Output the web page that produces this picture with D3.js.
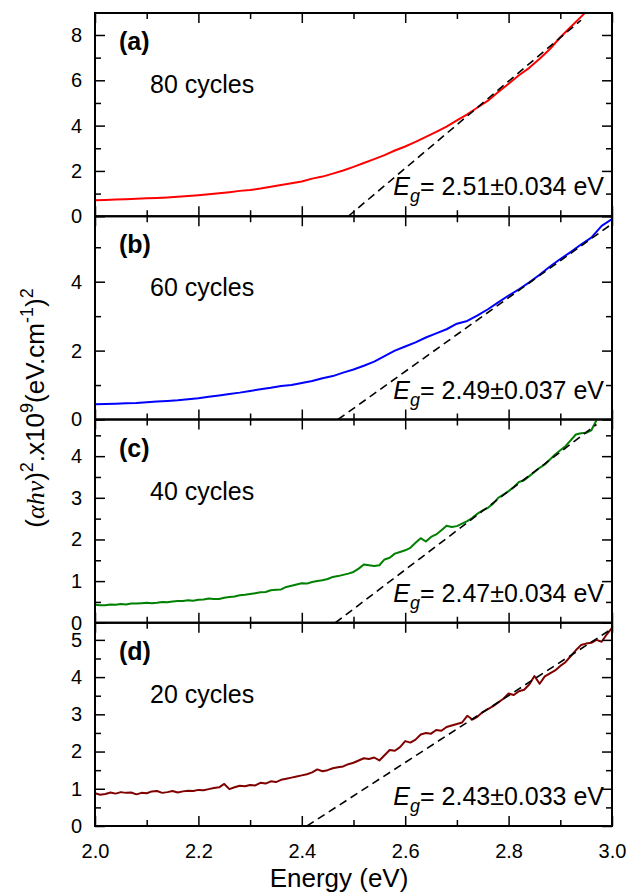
<!DOCTYPE html>
<html>
<head>
<meta charset="utf-8">
<script src="https://cdn.jsdelivr.net/npm/d3@7"></script>
<style>
  body { margin: 0; background: #fff; }
  text { font-family: Arial, "Liberation Sans", sans-serif; fill: #000; }
</style>
</head>
<body>
<svg id="svg" width="629" height="896"></svg>
<script>
// photon energy (eV): coarse grid for the smooth spectra (a, b)
var energy = [2.00, 2.02, 2.04, 2.06, 2.08, 2.10, 2.12, 2.14, 2.16, 2.18,
    2.20, 2.22, 2.24, 2.26, 2.28, 2.30, 2.32, 2.34, 2.36, 2.38,
    2.40, 2.42, 2.44, 2.46, 2.48, 2.50, 2.52, 2.54, 2.56, 2.58,
    2.60, 2.62, 2.64, 2.66, 2.68, 2.70, 2.72, 2.74, 2.76, 2.78,
    2.80, 2.82, 2.84, 2.86, 2.88, 2.90, 2.92, 2.94, 2.96, 2.98, 3.00]

// finer grid for the noisier spectra (c, d)
var energyFine = [2.00, 2.01, 2.02, 2.03, 2.04, 2.05, 2.06, 2.07, 2.08, 2.09,
    2.10, 2.11, 2.12, 2.13, 2.14, 2.15, 2.16, 2.17, 2.18, 2.19,
    2.20, 2.21, 2.22, 2.23, 2.24, 2.25, 2.26, 2.27, 2.28, 2.29,
    2.30, 2.31, 2.32, 2.33, 2.34, 2.35, 2.36, 2.37, 2.38, 2.39,
    2.40, 2.41, 2.42, 2.43, 2.44, 2.45, 2.46, 2.47, 2.48, 2.49,
    2.50, 2.51, 2.52, 2.53, 2.54, 2.55, 2.56, 2.57, 2.58, 2.59,
    2.60, 2.61, 2.62, 2.63, 2.64, 2.65, 2.66, 2.67, 2.68, 2.69,
    2.70, 2.71, 2.72, 2.73, 2.74, 2.75, 2.76, 2.77, 2.78, 2.79,
    2.80, 2.81, 2.82, 2.83, 2.84, 2.85, 2.86, 2.87, 2.88, 2.89,
    2.90, 2.91, 2.92, 2.93, 2.94, 2.95, 2.96, 2.97, 2.98, 2.99, 3.00]

// (alpha h nu)^2 x 1e9
var cycles80 = [0.71, 0.72, 0.74, 0.75, 0.77, 0.79, 0.81, 0.83, 0.86, 0.89,
    0.93, 0.97, 1.01, 1.06, 1.12, 1.16, 1.22, 1.30, 1.38, 1.46,
    1.53, 1.66, 1.75, 1.88, 2.02, 2.18, 2.35, 2.52, 2.70, 2.90,
    3.08, 3.28, 3.50, 3.72, 3.96, 4.23, 4.50, 4.80, 5.10, 5.48,
    5.85, 6.22, 6.55, 6.95, 7.38, 7.90, 8.35, 8.80, 9.25, 9.70, 10.1]
var cycles60 = [0.44, 0.45, 0.46, 0.47, 0.48, 0.50, 0.52, 0.54, 0.56, 0.59,
    0.62, 0.66, 0.70, 0.74, 0.78, 0.83, 0.88, 0.92, 0.97, 1.00,
    1.06, 1.12, 1.20, 1.26, 1.36, 1.45, 1.56, 1.68, 1.84, 2.00,
    2.12, 2.24, 2.38, 2.50, 2.62, 2.78, 2.86, 3.02, 3.20, 3.40,
    3.60, 3.78, 3.98, 4.20, 4.44, 4.66, 4.86, 5.08, 5.28, 5.62, 5.82]
var cycles40 = [0.43, 0.42, 0.42, 0.44, 0.43, 0.45, 0.44, 0.46, 0.46, 0.47,
    0.48, 0.47, 0.48, 0.50, 0.49, 0.51, 0.52, 0.52, 0.54, 0.53,
    0.55, 0.56, 0.58, 0.57, 0.57, 0.60, 0.62, 0.63, 0.66, 0.67,
    0.69, 0.71, 0.73, 0.74, 0.78, 0.79, 0.80, 0.86, 0.89, 0.92,
    0.95, 0.94, 0.98, 1.00, 1.02, 1.05, 1.10, 1.12, 1.15, 1.18,
    1.22, 1.30, 1.40, 1.38, 1.36, 1.38, 1.52, 1.56, 1.66, 1.70,
    1.74, 1.80, 1.92, 2.03, 1.95, 2.06, 2.12, 2.22, 2.33, 2.30,
    2.32, 2.38, 2.44, 2.52, 2.62, 2.70, 2.76, 2.86, 3.00, 3.08,
    3.16, 3.26, 3.38, 3.42, 3.52, 3.62, 3.72, 3.80, 3.92, 4.04,
    4.14, 4.24, 4.38, 4.52, 4.55, 4.56, 4.62, 4.86, 5.00, 5.10, 5.20]
var cycles20 = [0.88, 0.84, 0.86, 0.90, 0.87, 0.91, 0.89, 0.90, 0.85, 0.89,
    0.88, 0.93, 0.94, 0.89, 0.91, 0.94, 0.90, 0.93, 0.95, 0.94,
    0.97, 0.96, 0.99, 1.02, 1.04, 1.13, 0.99, 1.04, 1.08, 1.07,
    1.10, 1.09, 1.16, 1.14, 1.20, 1.18, 1.24, 1.27, 1.30, 1.33,
    1.36, 1.39, 1.44, 1.52, 1.47, 1.50, 1.55, 1.58, 1.60, 1.66,
    1.70, 1.76, 1.82, 1.80, 1.84, 1.76, 1.90, 2.04, 2.02, 2.12,
    2.28, 2.24, 2.32, 2.46, 2.50, 2.48, 2.58, 2.56, 2.66, 2.70,
    2.74, 2.78, 2.96, 2.86, 2.94, 3.06, 3.14, 3.22, 3.32, 3.42,
    3.56, 3.52, 3.62, 3.66, 3.80, 4.03, 3.82, 4.02, 4.10, 4.18,
    4.30, 4.40, 4.56, 4.72, 4.86, 4.90, 4.92, 5.00, 4.95, 5.15, 5.32]

// linear Tauc fits: from (fitX0, 0) to (fitX1, fitY1)
var fitX0 = [2.49, 2.47, 2.465, 2.41]
var fitX1 = [2.94, 3.00, 2.97, 3.00]
var fitY1 = [8.65, 5.68, 4.76, 5.30]

var panelLabels = ['(a)', '(b)', '(c)', '(d)']
var cycleLabels = ['80 cycles', '60 cycles', '40 cycles', '20 cycles']
var gapLabels = ['2.51\u00b10.034 eV', '2.49\u00b10.037 eV', '2.47\u00b10.034 eV', '2.43\u00b10.033 eV']

// axis settings per panel
var yMax = [8.97, 5.9, 4.88, 5.46]
var yMajor = [[0, 2, 4, 6, 8], [0, 2, 4], [0, 1, 2, 3, 4], [0, 1, 2, 3, 4, 5]]
var yMinor = [[1, 3, 5, 7], [1, 3, 5], [0.5, 1.5, 2.5, 3.5, 4.5], [0.5, 1.5, 2.5, 3.5, 4.5]]
var xMajor = [2.0, 2.2, 2.4, 2.6, 2.8, 3.0]
var xMinor = [2.1, 2.3, 2.5, 2.7, 2.9]

var series = [cycles80, cycles60, cycles40, cycles20]
var grids = [energy, energy, energyFine, energyFine]
var colors = ['#ff0000', '#0000ff', '#008000', '#800000']

var svg = d3.select('#svg')
var mLeft = 95, mRight = 612, mTop = 13, mBottom = 826
var ph = (mBottom - mTop) / 4
var majorLen = 10, minorLen = 6

var x = d3.scaleLinear().domain([2, 3]).range([mLeft, mRight])

for (var i = 0; i < 4; i++) {

    var y0 = mTop + i * ph
    var y = d3.scaleLinear().domain([0, yMax[i]]).range([y0 + ph, y0])
    var g = svg.append('g')
    var line = d3.line().x(function(d) { return x(d[0]) }).y(function(d) { return y(d[1]) })

    g.append('clipPath').attr('id', 'clip' + i)
        .append('rect')
        .attr('x', mLeft).attr('y', y0)
        .attr('width', mRight - mLeft).attr('height', ph)

    var vals = series[i]
    var pts = grids[i].map(function(e, k) { return [e, vals[k]] })

    g.append('path')
        .datum(pts)
        .attr('clip-path', 'url(#clip' + i + ')')
        .attr('fill', 'none')
        .attr('stroke', colors[i])
        .attr('stroke-width', 2)
        .attr('stroke-linejoin', 'round')
        .attr('d', line)

    g.append('path')
        .datum([[fitX0[i], 0], [fitX1[i], fitY1[i]]])
        .attr('clip-path', 'url(#clip' + i + ')')
        .attr('fill', 'none')
        .attr('stroke', '#000')
        .attr('stroke-width', 1.6)
        .attr('stroke-dasharray', '8,5')
        .attr('d', line)

    // inward ticks on all four sides, labels only left and on the last bottom
    var axes = [
        [d3.axisLeft(y).tickValues(yMajor[i]).tickSizeInner(-majorLen).tickPadding(13).tickFormat(d3.format('d')), mLeft, 0],
        [d3.axisLeft(y).tickValues(yMinor[i]).tickSizeInner(-minorLen).tickFormat(''), mLeft, 0],
        [d3.axisRight(y).tickValues(yMajor[i]).tickSizeInner(-majorLen).tickFormat(''), mRight, 0],
        [d3.axisRight(y).tickValues(yMinor[i]).tickSizeInner(-minorLen).tickFormat(''), mRight, 0],
        [d3.axisTop(x).tickValues(xMajor).tickSizeInner(-majorLen).tickFormat(''), 0, y0],
        [d3.axisTop(x).tickValues(xMinor).tickSizeInner(-minorLen).tickFormat(''), 0, y0],
        [d3.axisBottom(x).tickValues(xMajor).tickSizeInner(-majorLen).tickPadding(18)
            .tickFormat(i == 3 ? d3.format('.1f') : ''), 0, y0 + ph],
        [d3.axisBottom(x).tickValues(xMinor).tickSizeInner(-minorLen).tickFormat(''), 0, y0 + ph]
    ]
    axes.forEach(function(a) {
        var ag = g.append('g')
            .attr('transform', 'translate(' + a[1] + ',' + a[2] + ')')
            .call(a[0].tickSizeOuter(0))
        ag.select('.domain').remove()
        ag.selectAll('line').attr('stroke', '#000').attr('stroke-width', 1.5)
        ag.selectAll('text')
            .attr('font-size', 20)
            .attr('font-family', 'Arial, "Liberation Sans", sans-serif')
            .attr('fill', '#000')
    })

    g.append('rect')
        .attr('x', mLeft).attr('y', y0)
        .attr('width', mRight - mLeft).attr('height', ph)
        .attr('fill', 'none').attr('stroke', '#000').attr('stroke-width', 2)

    g.append('text')
        .attr('x', 119).attr('y', y0 + 37)
        .attr('font-size', 25).attr('font-weight', 'bold')
        .text(panelLabels[i])

    g.append('text')
        .attr('x', 150).attr('y', y0 + 80)
        .attr('font-size', 25)
        .text(cycleLabels[i])

    var eg = g.append('text')
        .attr('x', 604).attr('y', y0 + ph - 21)
        .attr('text-anchor', 'end')
        .attr('font-size', 25)
    eg.append('tspan').attr('font-style', 'italic').text('E')
    eg.append('tspan').attr('font-style', 'italic').attr('font-size', 18).attr('dy', 7).text('g')
    eg.append('tspan').attr('dy', -7).text('= ' + gapLabels[i])
}

svg.append('text')
    .attr('x', 339).attr('y', 887)
    .attr('text-anchor', 'middle')
    .attr('font-size', 26)
    .text('Energy (eV)')

// y title with superscripts
var yt = svg.append('text')
    .attr('transform', 'translate(44,408) rotate(-90)')
    .attr('text-anchor', 'middle')
    .attr('font-size', 26)
yt.append('tspan').text('(')
yt.append('tspan').attr('font-style', 'italic').attr('font-family', '"Liberation Serif", serif').text('\u03b1h\u03bd')
yt.append('tspan').text(')')
yt.append('tspan').attr('font-size', 18).attr('dy', -11).text('2')
yt.append('tspan').attr('dy', 11).text('.x10')
yt.append('tspan').attr('font-size', 18).attr('dy', -11).text('9')
yt.append('tspan').attr('dy', 11).text('(eV.cm')
yt.append('tspan').attr('font-size', 18).attr('dy', -11).text('-1')
yt.append('tspan').attr('dy', 11).text(')')
yt.append('tspan').attr('font-size', 18).attr('dy', -11).text('2')
</script>
</body>
</html>
